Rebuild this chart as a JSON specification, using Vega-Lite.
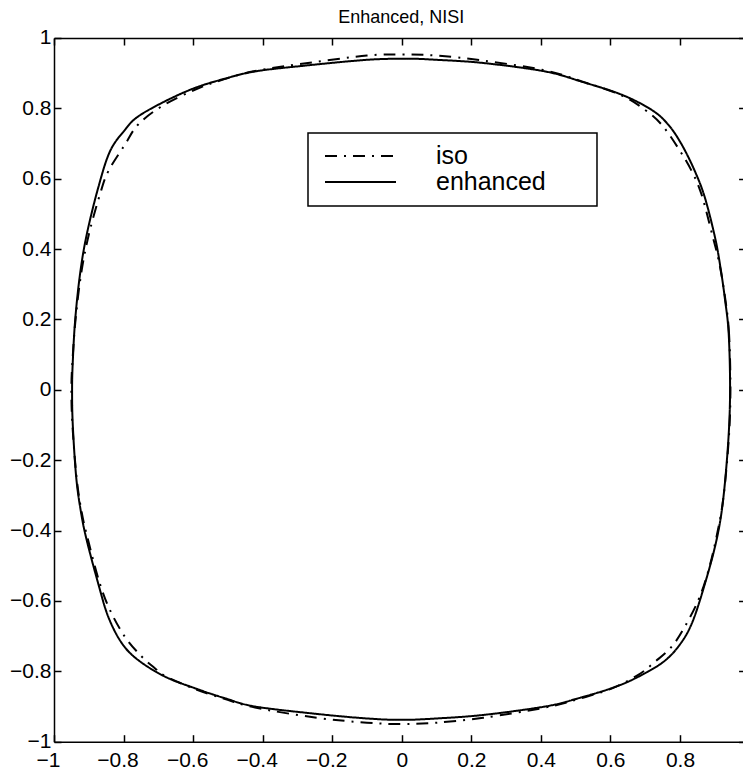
{
  "$schema": "https://vega.github.io/schema/vega-lite/v6.json",
  "autosize": "none",
  "width": 688.6,
  "height": 703.7,
  "padding": {"left": 54, "top": 38, "right": 0, "bottom": 34},
  "background": "white",
  "title": {
    "text": "Enhanced, NISI",
    "font": "Liberation Sans",
    "fontSize": 18,
    "fontWeight": "normal",
    "color": "black",
    "anchor": "middle",
    "frame": "group",
    "baseline": "alphabetic",
    "offset": 0,
    "dx": 3,
    "dy": 14
  },
  "config": {
    "view": {"stroke": null},
    "legend": {"strokeWidth": 1.5},
    "axis": {
      "labelFont": "Liberation Sans",
      "labelFontSize": 21,
      "labelColor": "black",
      "labelOverlap": false,
      "labelFlush": false,
      "domainColor": "black",
      "domainWidth": 1.5,
      "tickColor": "black",
      "tickWidth": 1.5,
      "grid": false,
      "title": null,
      "format": "~g"
    }
  },
  "data": {
    "values": [
      {"s": "enhanced", "i": 1, "x": 0.944, "y": 0.0},
      {"s": "enhanced", "i": 2, "x": 0.94, "y": 0.16},
      {"s": "enhanced", "i": 3, "x": 0.929, "y": 0.26},
      {"s": "enhanced", "i": 4, "x": 0.916, "y": 0.35},
      {"s": "enhanced", "i": 5, "x": 0.901, "y": 0.432},
      {"s": "enhanced", "i": 6, "x": 0.872, "y": 0.545},
      {"s": "enhanced", "i": 7, "x": 0.843, "y": 0.621},
      {"s": "enhanced", "i": 8, "x": 0.805, "y": 0.697},
      {"s": "enhanced", "i": 9, "x": 0.766, "y": 0.754},
      {"s": "enhanced", "i": 10, "x": 0.718, "y": 0.796},
      {"s": "enhanced", "i": 11, "x": 0.632, "y": 0.839},
      {"s": "enhanced", "i": 12, "x": 0.52, "y": 0.875},
      {"s": "enhanced", "i": 13, "x": 0.412, "y": 0.905},
      {"s": "enhanced", "i": 14, "x": 0.234, "y": 0.929},
      {"s": "enhanced", "i": 15, "x": 0.1, "y": 0.938},
      {"s": "enhanced", "i": 16, "x": 0.02, "y": 0.941},
      {"s": "enhanced", "i": 17, "x": -0.1, "y": 0.938},
      {"s": "enhanced", "i": 18, "x": -0.293, "y": 0.92},
      {"s": "enhanced", "i": 19, "x": -0.422, "y": 0.905},
      {"s": "enhanced", "i": 20, "x": -0.51, "y": 0.884},
      {"s": "enhanced", "i": 21, "x": -0.595, "y": 0.858},
      {"s": "enhanced", "i": 22, "x": -0.681, "y": 0.82},
      {"s": "enhanced", "i": 23, "x": -0.758, "y": 0.777},
      {"s": "enhanced", "i": 24, "x": -0.796, "y": 0.739},
      {"s": "enhanced", "i": 25, "x": -0.839, "y": 0.678},
      {"s": "enhanced", "i": 26, "x": -0.873, "y": 0.574},
      {"s": "enhanced", "i": 27, "x": -0.906, "y": 0.441},
      {"s": "enhanced", "i": 28, "x": -0.925, "y": 0.33},
      {"s": "enhanced", "i": 29, "x": -0.939, "y": 0.2},
      {"s": "enhanced", "i": 30, "x": -0.946, "y": 0.08},
      {"s": "enhanced", "i": 31, "x": -0.948, "y": 0.0},
      {"s": "enhanced", "i": 32, "x": -0.946, "y": -0.1},
      {"s": "enhanced", "i": 33, "x": -0.936, "y": -0.25},
      {"s": "enhanced", "i": 34, "x": -0.922, "y": -0.35},
      {"s": "enhanced", "i": 35, "x": -0.906, "y": -0.427},
      {"s": "enhanced", "i": 36, "x": -0.873, "y": -0.55},
      {"s": "enhanced", "i": 37, "x": -0.844, "y": -0.645},
      {"s": "enhanced", "i": 38, "x": -0.805, "y": -0.72},
      {"s": "enhanced", "i": 39, "x": -0.758, "y": -0.768},
      {"s": "enhanced", "i": 40, "x": -0.681, "y": -0.815},
      {"s": "enhanced", "i": 41, "x": -0.595, "y": -0.848},
      {"s": "enhanced", "i": 42, "x": -0.51, "y": -0.876},
      {"s": "enhanced", "i": 43, "x": -0.422, "y": -0.9},
      {"s": "enhanced", "i": 44, "x": -0.245, "y": -0.921},
      {"s": "enhanced", "i": 45, "x": -0.1, "y": -0.934},
      {"s": "enhanced", "i": 46, "x": 0.0, "y": -0.938},
      {"s": "enhanced", "i": 47, "x": 0.1, "y": -0.934},
      {"s": "enhanced", "i": 48, "x": 0.234, "y": -0.924},
      {"s": "enhanced", "i": 49, "x": 0.412, "y": -0.9},
      {"s": "enhanced", "i": 50, "x": 0.51, "y": -0.876},
      {"s": "enhanced", "i": 51, "x": 0.603, "y": -0.848},
      {"s": "enhanced", "i": 52, "x": 0.671, "y": -0.82},
      {"s": "enhanced", "i": 53, "x": 0.747, "y": -0.777},
      {"s": "enhanced", "i": 54, "x": 0.795, "y": -0.73},
      {"s": "enhanced", "i": 55, "x": 0.834, "y": -0.664},
      {"s": "enhanced", "i": 56, "x": 0.872, "y": -0.55},
      {"s": "enhanced", "i": 57, "x": 0.905, "y": -0.427},
      {"s": "enhanced", "i": 58, "x": 0.924, "y": -0.313},
      {"s": "enhanced", "i": 59, "x": 0.939, "y": -0.143},

      {"s": "iso", "i": 1, "x": 0.945, "y": 0.0},
      {"s": "iso", "i": 2, "x": 0.941, "y": 0.16},
      {"s": "iso", "i": 3, "x": 0.93, "y": 0.26},
      {"s": "iso", "i": 4, "x": 0.913, "y": 0.36},
      {"s": "iso", "i": 5, "x": 0.893, "y": 0.44},
      {"s": "iso", "i": 6, "x": 0.862, "y": 0.555},
      {"s": "iso", "i": 7, "x": 0.834, "y": 0.621},
      {"s": "iso", "i": 8, "x": 0.795, "y": 0.687},
      {"s": "iso", "i": 9, "x": 0.747, "y": 0.754},
      {"s": "iso", "i": 10, "x": 0.699, "y": 0.796},
      {"s": "iso", "i": 11, "x": 0.632, "y": 0.837},
      {"s": "iso", "i": 12, "x": 0.52, "y": 0.876},
      {"s": "iso", "i": 13, "x": 0.412, "y": 0.908},
      {"s": "iso", "i": 14, "x": 0.234, "y": 0.936},
      {"s": "iso", "i": 15, "x": 0.1, "y": 0.95},
      {"s": "iso", "i": 16, "x": 0.0, "y": 0.953},
      {"s": "iso", "i": 17, "x": -0.1, "y": 0.95},
      {"s": "iso", "i": 18, "x": -0.293, "y": 0.926},
      {"s": "iso", "i": 19, "x": -0.422, "y": 0.906},
      {"s": "iso", "i": 20, "x": -0.51, "y": 0.883},
      {"s": "iso", "i": 21, "x": -0.595, "y": 0.853},
      {"s": "iso", "i": 22, "x": -0.69, "y": 0.806},
      {"s": "iso", "i": 23, "x": -0.758, "y": 0.754},
      {"s": "iso", "i": 24, "x": -0.796, "y": 0.697},
      {"s": "iso", "i": 25, "x": -0.844, "y": 0.621},
      {"s": "iso", "i": 26, "x": -0.868, "y": 0.555},
      {"s": "iso", "i": 27, "x": -0.9, "y": 0.441},
      {"s": "iso", "i": 28, "x": -0.922, "y": 0.33},
      {"s": "iso", "i": 29, "x": -0.938, "y": 0.2},
      {"s": "iso", "i": 30, "x": -0.947, "y": 0.08},
      {"s": "iso", "i": 31, "x": -0.95, "y": 0.0},
      {"s": "iso", "i": 32, "x": -0.947, "y": -0.1},
      {"s": "iso", "i": 33, "x": -0.935, "y": -0.25},
      {"s": "iso", "i": 34, "x": -0.92, "y": -0.35},
      {"s": "iso", "i": 35, "x": -0.902, "y": -0.427},
      {"s": "iso", "i": 36, "x": -0.87, "y": -0.545},
      {"s": "iso", "i": 37, "x": -0.839, "y": -0.626},
      {"s": "iso", "i": 38, "x": -0.796, "y": -0.702},
      {"s": "iso", "i": 39, "x": -0.748, "y": -0.758},
      {"s": "iso", "i": 40, "x": -0.71, "y": -0.791},
      {"s": "iso", "i": 41, "x": -0.681, "y": -0.813},
      {"s": "iso", "i": 42, "x": -0.595, "y": -0.85},
      {"s": "iso", "i": 43, "x": -0.51, "y": -0.878},
      {"s": "iso", "i": 44, "x": -0.422, "y": -0.903},
      {"s": "iso", "i": 45, "x": -0.245, "y": -0.932},
      {"s": "iso", "i": 46, "x": -0.1, "y": -0.946},
      {"s": "iso", "i": 47, "x": 0.0, "y": -0.95},
      {"s": "iso", "i": 48, "x": 0.1, "y": -0.946},
      {"s": "iso", "i": 49, "x": 0.234, "y": -0.932},
      {"s": "iso", "i": 50, "x": 0.412, "y": -0.903},
      {"s": "iso", "i": 51, "x": 0.51, "y": -0.878},
      {"s": "iso", "i": 52, "x": 0.603, "y": -0.849},
      {"s": "iso", "i": 53, "x": 0.68, "y": -0.81},
      {"s": "iso", "i": 54, "x": 0.728, "y": -0.773},
      {"s": "iso", "i": 55, "x": 0.776, "y": -0.73},
      {"s": "iso", "i": 56, "x": 0.814, "y": -0.673},
      {"s": "iso", "i": 57, "x": 0.853, "y": -0.597},
      {"s": "iso", "i": 58, "x": 0.88, "y": -0.52},
      {"s": "iso", "i": 59, "x": 0.903, "y": -0.427},
      {"s": "iso", "i": 60, "x": 0.924, "y": -0.313},
      {"s": "iso", "i": 61, "x": 0.94, "y": -0.143}
    ]
  },
  "layer": [
    {
      "mark": {"type": "line", "interpolate": "cardinal-closed", "color": "black", "strokeWidth": 2},
      "encoding": {
        "x": {
          "field": "x", "type": "quantitative",
          "scale": {"domain": [-1, 0.98], "nice": false, "zero": false},
          "axis": {
            "orient": "bottom",
            "values": [-1, -0.8, -0.6, -0.4, -0.2, 0, 0.2, 0.4, 0.6, 0.8],
            "tickSize": -7,
            "labelPadding": 15,
            "labelOffset": {"condition": {"test": "datum.value < 0", "value": -6}, "value": 0}
          }
        },
        "y": {
          "field": "y", "type": "quantitative",
          "scale": {"domain": [-1, 1], "nice": false, "zero": false},
          "axis": {
            "orient": "left",
            "values": [-1, -0.8, -0.6, -0.4, -0.2, 0, 0.2, 0.4, 0.6, 0.8, 1],
            "tickSize": -7,
            "labelPadding": 10
          }
        },
        "order": {"field": "i", "type": "quantitative"},
        "strokeDash": {
          "field": "s", "type": "nominal",
          "scale": {"domain": ["iso", "enhanced"], "range": [[12, 7, 2, 7], [1, 0]]},
          "legend": {
            "orient": "none",
            "legendX": 254,
            "legendY": 95,
            "title": null,
            "padding": 10.5,
            "strokeColor": "black",
            "fillColor": "white",
            "symbolType": "M-0.923,0H10",
            "symbolSize": 169,
            "symbolStrokeColor": "black",
            "symbolStrokeWidth": 1.8,
            "labelFont": "Liberation Sans",
            "labelFontSize": 25,
            "labelColor": "black",
            "labelOffset": 92.5,
            "labelExpr": "datum.label + '\u00a0\u00a0\u00a0\u00a0\u00a0\u2009\u200b'",
            "rowPadding": 0
          }
        }
      }
    },
    {
      "mark": {"type": "point", "opacity": 0},
      "encoding": {
        "x": {
          "field": "x", "type": "quantitative",
          "axis": {
            "orient": "top",
            "values": [-1, -0.8, -0.6, -0.4, -0.2, 0, 0.2, 0.4, 0.6, 0.8],
            "labels": false,
            "tickSize": -7
          }
        },
        "y": {
          "field": "y", "type": "quantitative",
          "axis": {
            "orient": "right",
            "values": [-1, -0.8, -0.6, -0.4, -0.2, 0, 0.2, 0.4, 0.6, 0.8, 1],
            "labels": false,
            "domain": false,
            "tickSize": -4
          }
        }
      }
    }
  ],
  "resolve": {"axis": {"x": "independent", "y": "independent"}}
}
